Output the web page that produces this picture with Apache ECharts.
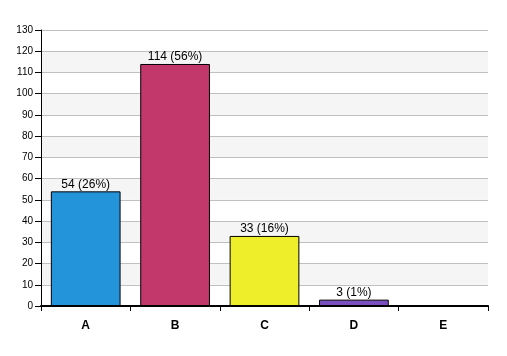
<!DOCTYPE html>
<html><head><meta charset="utf-8">
<script src="https://cdn.jsdelivr.net/npm/echarts@6/dist/echarts.min.js"></script>
<style>html,body{margin:0;padding:0;background:#fff}#c{width:507px;height:356px}</style>
</head><body><div id="c"></div>
<script>
var categories = ['A', 'B', 'C', 'D', 'E'];
var counts = [54, 114, 33, 3, 0];
var percents = ['26%', '56%', '16%', '1%', '0%'];
var barColors = ['#2494da', '#c3386a', '#eeee2a', '#7a4fc0', '#999999'];
var yMin = 0, yMax = 130, yStep = 10;

var chart = echarts.init(document.getElementById('c'), null, {renderer: 'canvas'});
chart.setOption({
  animation: false,
  backgroundColor: '#fff',
  grid: {left: 41, right: 19, top: 30, bottom: 50},
  xAxis: {
    type: 'category',
    data: categories,
    axisLine: {lineStyle: {color: '#000', width: 2}},
    axisTick: {show: true, length: 5, lineStyle: {color: '#000', width: 1}},
    axisLabel: {color: '#000', fontFamily: 'Liberation Sans', fontSize: 12, fontWeight: 'bold', margin: 14}
  },
  yAxis: {
    type: 'value',
    min: yMin, max: yMax, interval: yStep,
    axisLine: {show: true, lineStyle: {color: '#000', width: 1}},
    axisTick: {show: true, length: 6, lineStyle: {color: '#000'}},
    axisLabel: {color: '#000', fontFamily: 'Liberation Sans', fontSize: 10, margin: 8},
    splitLine: {lineStyle: {color: '#c0c0c0', width: 1}},
    splitArea: {show: true, areaStyle: {color: ['#ffffff', '#f5f5f5']}}
  },
  series: [{
    type: 'bar',
    barWidth: '78%',
    data: counts.map(function (v, i) {
      return {value: v, itemStyle: {color: barColors[i]}, label: {show: v > 0}};
    }),
    itemStyle: {borderColor: '#000', borderWidth: 1},
    label: {
      position: 'top', distance: 1, color: '#000',
      fontFamily: 'Liberation Sans', fontSize: 12,
      formatter: function (p) { return counts[p.dataIndex] + ' (' + percents[p.dataIndex] + ')'; }
    }
  }]
});
</script></body></html>
